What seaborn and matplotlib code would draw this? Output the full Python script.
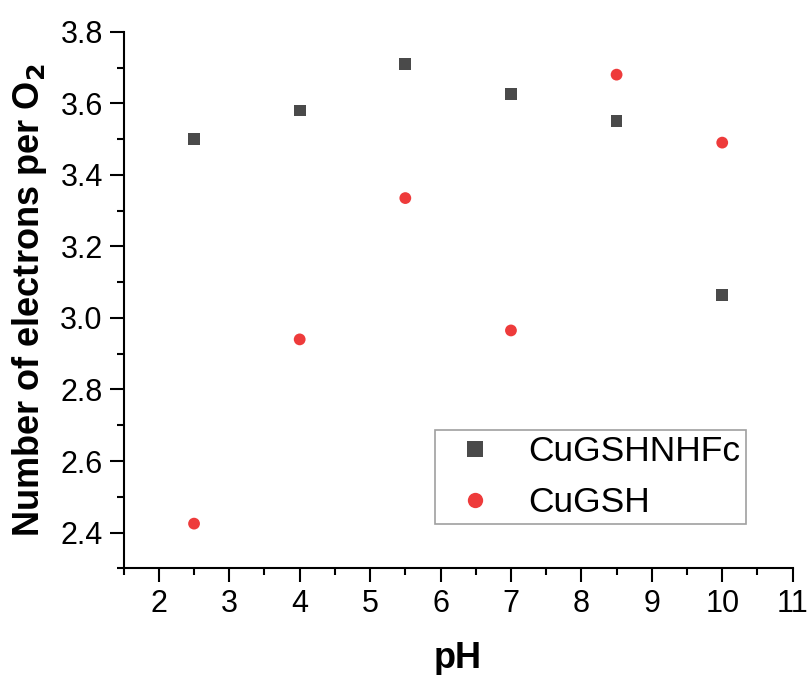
import pandas as pd
import matplotlib.pyplot as plt
import seaborn as sns
from matplotlib.ticker import MultipleLocator

ph = [2.5, 4, 5.5, 7, 8.5, 10]
fc_vals = [3.50, 3.58, 3.71, 3.625, 3.55, 3.065]
gsh_vals = [2.425, 2.94, 3.335, 2.965, 3.68, 3.49]
series = ['CuGSHNHFc', 'CuGSH']

df = pd.DataFrame({
    'pH': ph * 2,
    'n': fc_vals + gsh_vals,
    'sample': [series[0]] * len(ph) + [series[1]] * len(ph),
})

sns.set_style('ticks')
plt.rcParams['font.family'] = ['Liberation Sans', 'DejaVu Sans']
plt.rcParams.update({'text.color': 'black', 'axes.labelcolor': 'black',
                     'xtick.color': 'black', 'ytick.color': 'black',
                     'axes.edgecolor': 'black'})

fig = plt.figure(figsize=(8.08, 6.75), dpi=100)
ax = fig.add_axes([0.153, 0.158, 0.828, 0.795])

sns.scatterplot(data=df, x='pH', y='n', hue='sample', style='sample',
                markers={series[0]: 's', series[1]: 'o'},
                palette={series[0]: '#4a4a4a', series[1]: '#ee3b3b'},
                s=72, linewidth=0, ax=ax)

ax.set_xlim(1.5, 11)
ax.set_ylim(2.3, 3.8)
ax.xaxis.set_major_locator(MultipleLocator(1))
ax.xaxis.set_minor_locator(MultipleLocator(0.5))
ax.yaxis.set_major_locator(MultipleLocator(0.2))
ax.yaxis.set_minor_locator(MultipleLocator(0.1))
ax.tick_params(which='major', length=10, width=1.5, labelsize=22, direction='out', pad=5)
ax.tick_params(which='minor', length=5, width=1.5, direction='out')
for sp in ['left', 'bottom']:
    ax.spines[sp].set_linewidth(1.5)
sns.despine(ax=ax)

ax.set_xlabel('pH', fontsize=26, fontweight='bold', labelpad=16)
ax.set_ylabel('Number of electrons per O$_\\mathbf{2}$', fontsize=26, fontweight='bold', labelpad=8)

leg = ax.legend(loc='lower right', bbox_to_anchor=(0.93, 0.082), borderaxespad=0,
                fontsize=25.5, frameon=True, fancybox=False, edgecolor='#888888',
                borderpad=0.15, handlelength=2.0, handletextpad=0.5,
                labelspacing=0.5, markerscale=1.3)
leg.get_frame().set_linewidth(1.2)

fig.savefig('out.png', dpi=100)
